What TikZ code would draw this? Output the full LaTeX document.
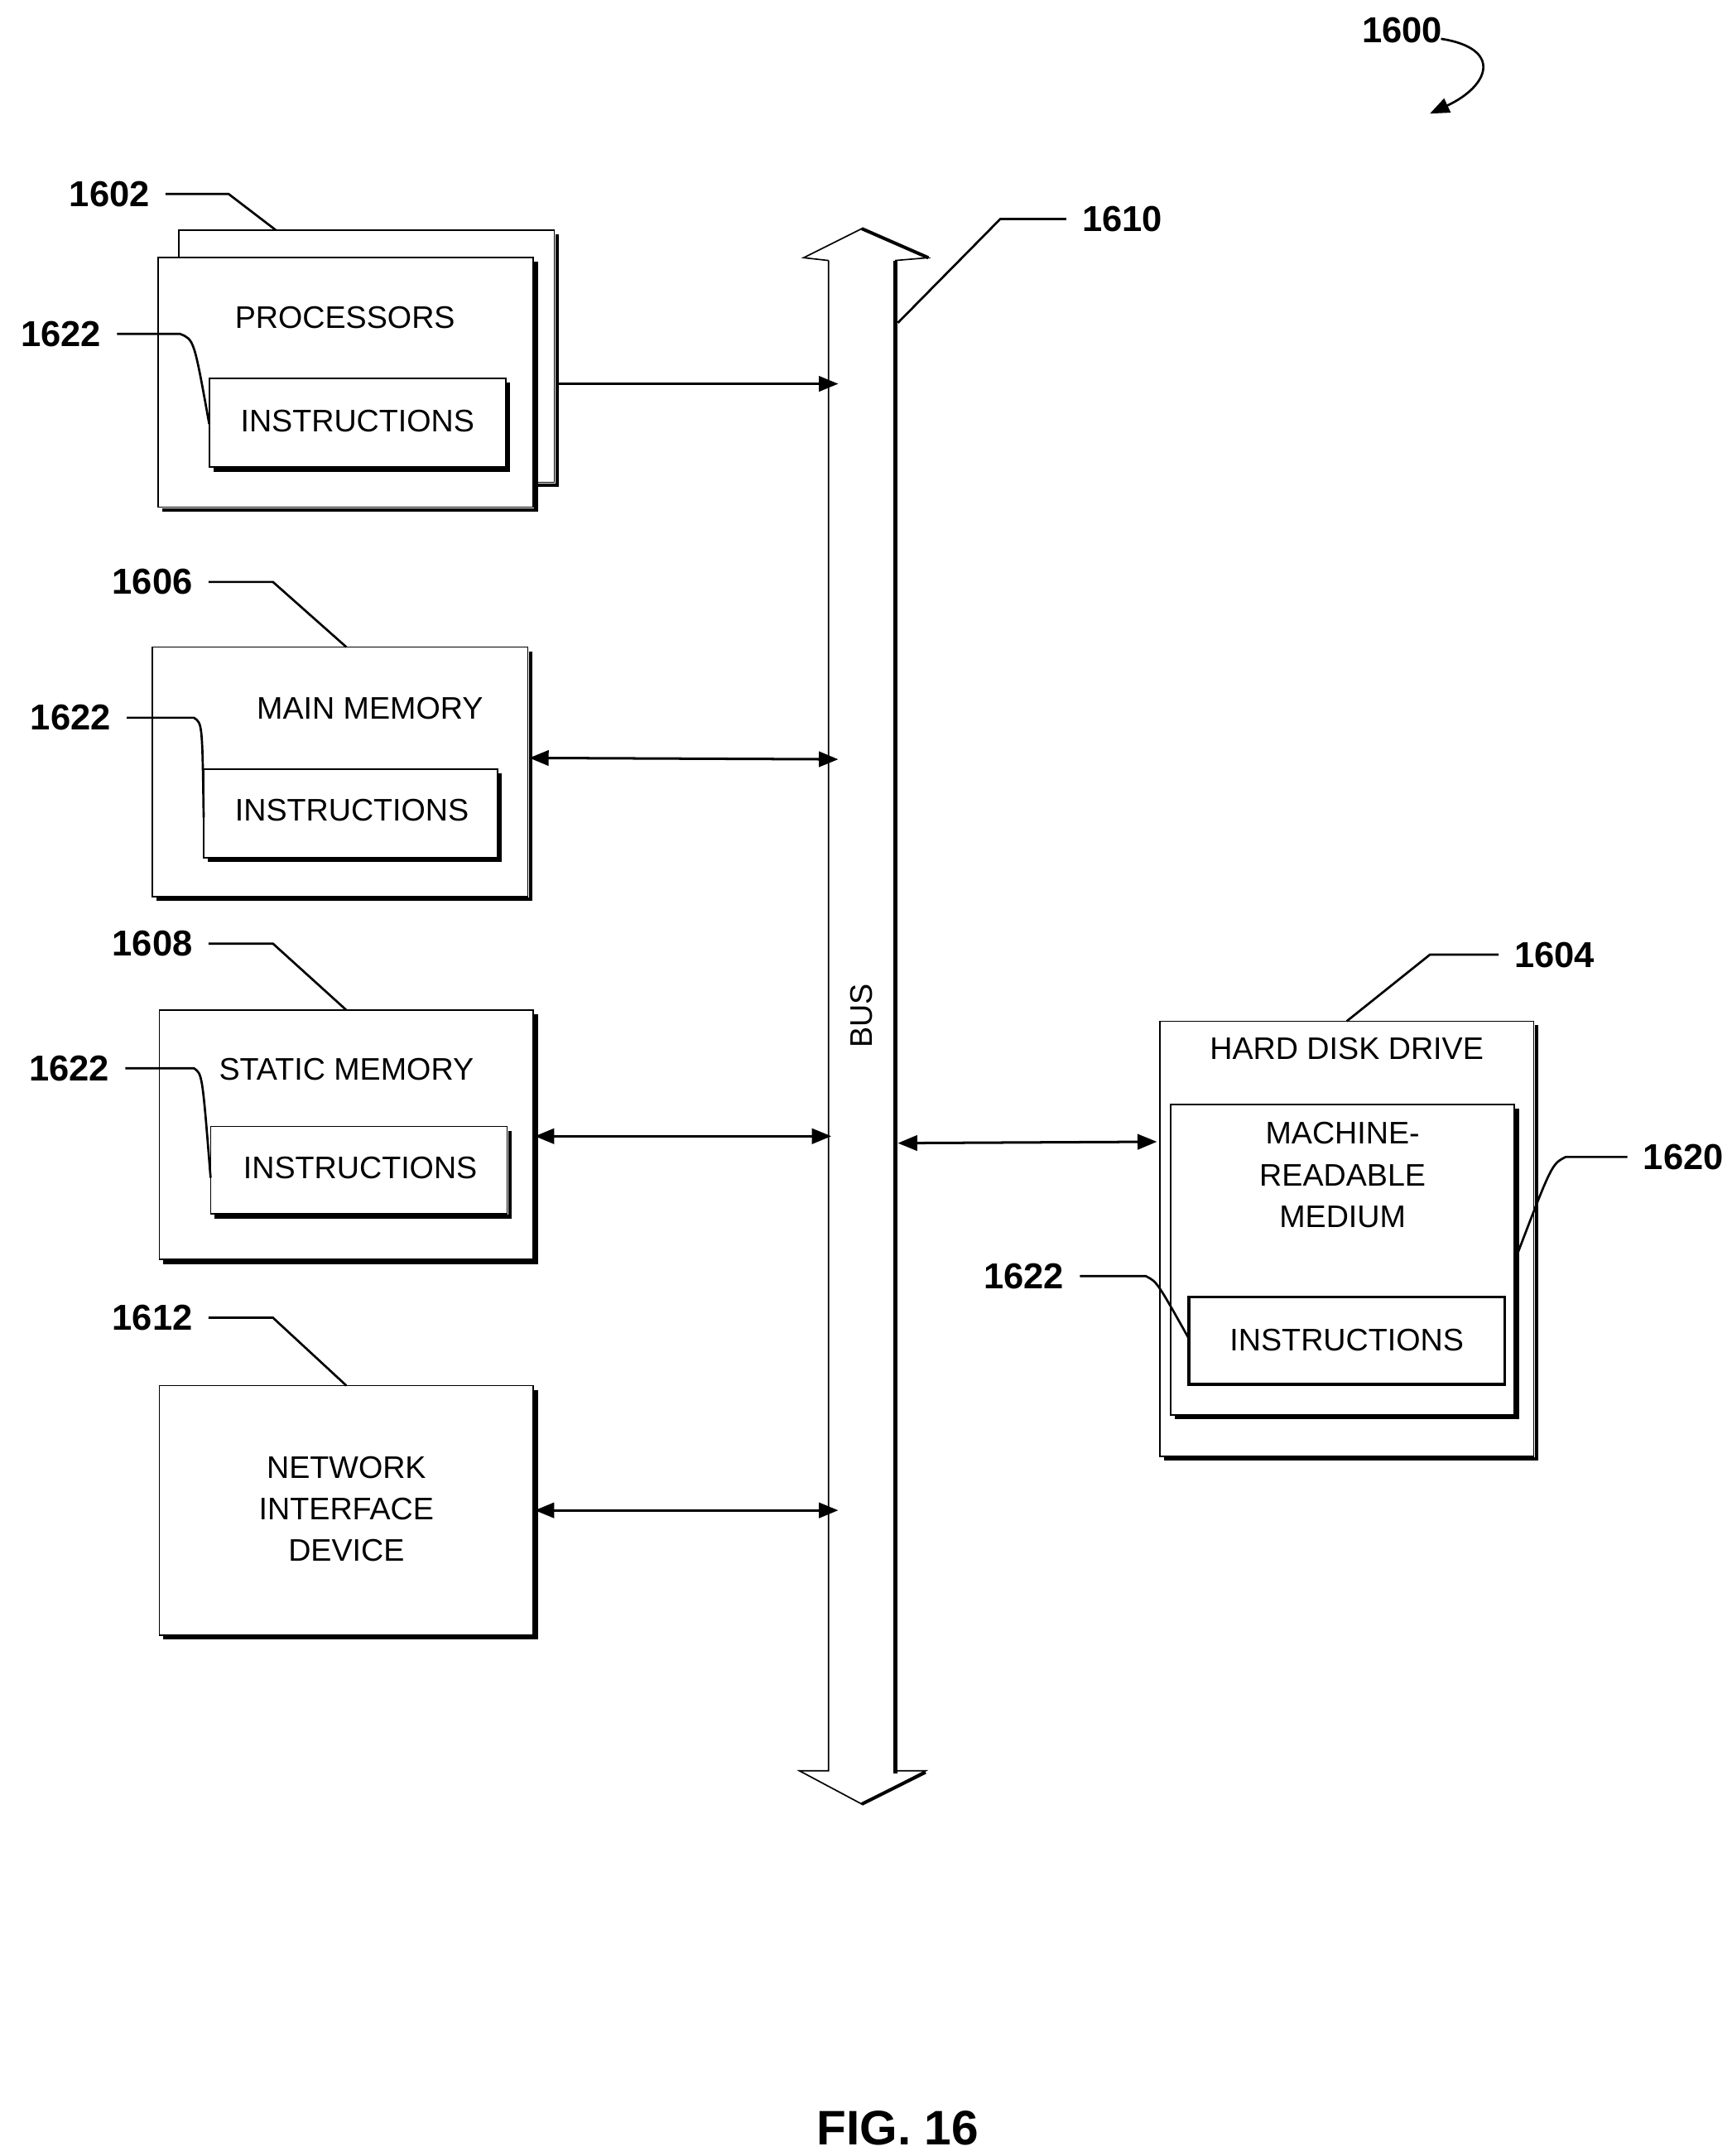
\documentclass[tikz,border=0pt]{standalone}
\usepackage{fontspec}
\setmainfont{Liberation Sans}
\usetikzlibrary{arrows.meta}
\begin{document}
\begin{tikzpicture}[x=1pt,y=-1pt,
  lbl/.style={font=\fontsize{26}{30}\selectfont\bfseries},
  txt/.style={font=\fontsize{22.5}{30}\selectfont, align=center},
  lead/.style={line width=1.6pt},
  arr/.style={line width=1.8pt,-{Triangle[length=14pt,width=11pt]}},
  darr/.style={line width=1.8pt,{Triangle[length=14pt,width=11pt]}-{Triangle[length=14pt,width=11pt]}},
  box/.style={line width=1pt,fill=white}]
\useasboundingbox (0,0) rectangle (1250,1556);
\newcommand{\mybox}[5]{% name x1 y1 x2 y2
  \draw[line width=2.6pt] ({#4+2},{#3+3}) -- ({#4+2},{#5+2}) -- ({#2+3},{#5+2});
  \draw[box] (#2,#3) rectangle (#4,#5);
  \coordinate (#1) at ({(#2+#4)/2},{(#3+#5)/2});}
% Processors
\mybox{procback}{129}{166}{400}{348}
\mybox{proc}{114}{186}{385}{366}
\node[txt] (ptxt) at (249,229) {PROCESSORS};
\mybox{pinst}{151}{273}{365}{337}
\node[txt] (pit) at (258,304) {INSTRUCTIONS};
\node[lbl] (l1602) at (79,140) {1602};
\draw[lead] (l1602.east) ++(8,0) -- (165,140) -- (199,166);
\node[lbl] (l1622a) at (44,241) {1622};
\draw[lead] (l1622a.east) ++(8,0) -- (130,241) .. controls (140,245) .. (151,306);
% Bus
\coordinate (bt) at (622,165);
\coordinate (bb) at (622,1302);
\draw[line width=1pt] (598,188) -- (598,1278) -- (577,1278) -- (bb) -- (668,1278) -- (646,1278);
\draw[line width=1pt] (646,188) -- (670,186) -- (bt) -- (580,186) -- (598,188);
\draw[line width=3pt] (646,188) -- (646,1280);
\draw[line width=2.4pt] (622,1302) -- (668,1279);
\draw[line width=2.4pt] (622,165) -- (670,186);
\node[txt,rotate=90] (bus) at (622,733) {BUS};
\node[lbl] (l1610) at (810,158) {1610};
\draw[lead] (l1610.west) ++(-8,0) -- (722,158) -- (648,233);
\coordinate (b1) at (605,277);
\coordinate (b2) at (605,548);
\coordinate (b3) at (600,820);
\coordinate (b4) at (605,1090);
\coordinate (b5) at (648,825);
\draw[arr] (401,277) -- (b1);
% Main memory
\mybox{mm}{110}{467}{381}{647}
\node[txt] (mmt) at (267,511) {MAIN MEMORY};
\mybox{minst}{147}{555}{359}{619}
\node[txt] (mit) at (254,585) {INSTRUCTIONS};
\node[lbl] (l1606) at (110,420) {1606};
\draw[lead] (l1606.east) ++(8,0) -- (197,420) -- (250,467);
\node[lbl] (l1622b) at (51,518) {1622};
\draw[lead] (l1622b.east) ++(8,0) -- (140,518) .. controls (146,522) .. (147,590);
\draw[darr] (382,547) -- (b2);
% Static
\mybox{sm}{115}{729}{385}{909}
\node[txt] (smt) at (250,772) {STATIC MEMORY};
\mybox{sinst}{152}{813}{366}{876}
\node[txt] (sit) at (260,843) {INSTRUCTIONS};
\node[lbl] (l1608) at (110,681) {1608};
\draw[lead] (l1608.east) ++(8,0) -- (197,681) -- (250,729);
\node[lbl] (l1622c) at (50,771) {1622};
\draw[lead] (l1622c.east) ++(8,0) -- (140,771) .. controls (146,775) .. (152,850);
\draw[darr] (386,820) -- (b3);
% Network
\mybox{nw}{115}{1000}{385}{1180}
\node[txt] (nwt) at (250,1089) {NETWORK\\INTERFACE\\DEVICE};
\node[lbl] (l1612) at (110,951) {1612};
\draw[lead] (l1612.east) ++(8,0) -- (197,951) -- (250,1000);
\draw[darr] (386,1090) -- (b4);
% HDD
\mybox{hdd}{837}{737}{1107}{1051}
\node[txt] (ht) at (972,757) {HARD DISK DRIVE};
\mybox{mrm}{845}{797}{1093}{1021}
\node[txt] (mt) at (969,848) {MACHINE-\\READABLE\\MEDIUM};
\draw[line width=2pt] (858,936) rectangle (1086,999);
\node[txt] (hit) at (972,967) {INSTRUCTIONS};
\node[lbl] (l1604) at (1122,689) {1604};
\draw[lead] (l1604.west) ++(-8,0) -- (1032,689) -- (972,737);
\node[lbl] (l1620) at (1215,835) {1620};
\draw[lead] (l1620.west) ++(-8,0) -- (1130,835) .. controls (1120,840) .. (1094,908);
\node[lbl] (l1622d) at (739,921) {1622};
\draw[lead] (l1622d.east) ++(8,0) -- (827,921) .. controls (835,925) .. (858,966);
\draw[darr] (b5) -- (835,824);
% 1600
\node[lbl] (l1600) at (1012,22) {1600};
\coordinate (c1600) at (1032,82);
\draw[line width=1.6pt,-{Triangle[length=14pt,width=11pt]}] (1040,28) .. controls (1085,35) and (1075,62) .. (c1600);
\node[font=\fontsize{35}{38}\selectfont\bfseries] (fig) at (648,1536) {FIG. 16};
\end{tikzpicture}
\end{document}
